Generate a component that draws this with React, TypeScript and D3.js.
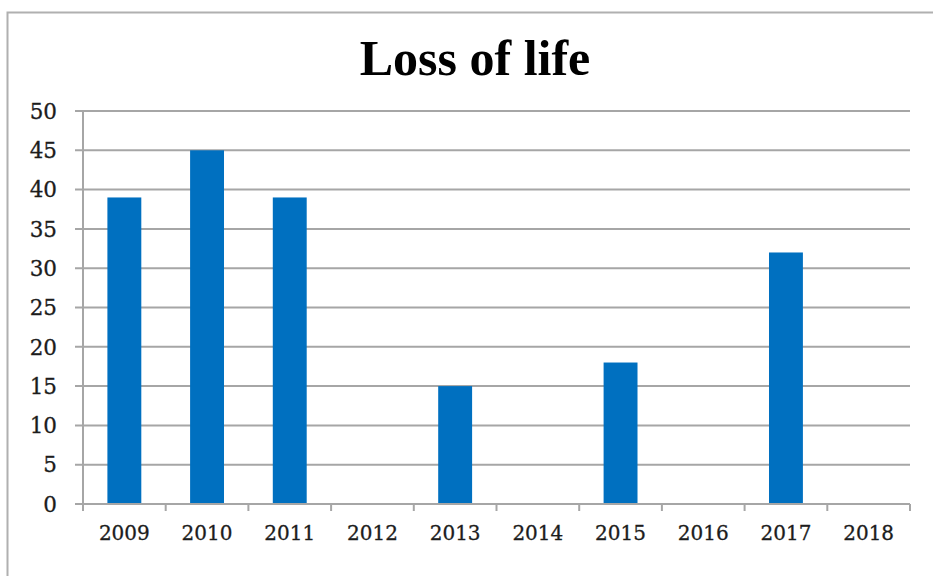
import { useEffect, useRef } from "react";
import * as d3 from "d3";

const years = ["2009", "2010", "2011", "2012", "2013", "2014", "2015", "2016", "2017", "2018"];
const deaths = [39, 45, 39, 0, 15, 0, 18, 0, 32, 0];
const yTicks = [0, 5, 10, 15, 20, 25, 30, 35, 40, 45, 50];

const W = 933;
const H = 576;

const App = () => {
  const ref = useRef<SVGSVGElement>(null);

  useEffect(() => {
    const svg = d3.select(ref.current);
    svg.selectAll("*").remove();

    const left = 83, right = 910, top = 111, bottom = 504;

    const x = d3.scaleBand<string>()
      .domain(years)
      .range([left, right])
      .paddingInner(0.59)
      .paddingOuter(0.295);
    const y = d3.scaleLinear().domain([0, 50]).range([bottom, top]);

    // outer frame
    svg.append("rect")
      .attr("x", 7.5).attr("y", 12.5)
      .attr("width", 1000).attr("height", 1000)
      .attr("fill", "#fff")
      .attr("stroke", "#b0b0b0")
      .attr("stroke-width", 2);

    // title
    svg.append("text")
      .attr("x", 475).attr("y", 75)
      .attr("text-anchor", "middle")
      .attr("font-family", "'Liberation Serif', serif")
      .attr("font-weight", "bold")
      .attr("font-size", 50)
      .attr("fill", "#000")
      .text("Loss of life");

    // gridlines + y ticks
    const grid = svg.append("g");
    grid.selectAll("line")
      .data(yTicks)
      .join("line")
      .attr("x1", left - 8).attr("x2", right)
      .attr("y1", d => y(d)).attr("y2", d => y(d))
      .attr("stroke", "#a6a6a6")
      .attr("stroke-width", 2);

    svg.append("g").selectAll("text")
      .data(yTicks)
      .join("text")
      .attr("x", 57)
      .attr("y", d => y(d))
      .attr("dy", "0.36em")
      .attr("text-anchor", "end")
      .attr("font-family", "'DejaVu Serif', serif")
      .attr("font-size", 21.5)
      .attr("fill", "#1c1c1c")
      .attr("stroke", "#1c1c1c")
      .attr("stroke-width", 0.3)
      .text(d => d);

    // y axis line
    svg.append("line")
      .attr("x1", left).attr("x2", left)
      .attr("y1", top).attr("y2", bottom)
      .attr("stroke", "#a6a6a6")
      .attr("stroke-width", 2);

    // bars
    svg.append("g").selectAll("rect")
      .data(deaths)
      .join("rect")
      .attr("x", (_, i) => x(years[i]) as number)
      .attr("width", x.bandwidth())
      .attr("y", d => y(d))
      .attr("height", d => bottom - y(d))
      .attr("fill", "#0070c0");

    // x axis ticks at category boundaries
    const step = x.step();
    const bounds = d3.range(years.length + 1).map(i => left + i * step);
    svg.append("g").selectAll("line")
      .data(bounds)
      .join("line")
      .attr("x1", d => d).attr("x2", d => d)
      .attr("y1", bottom).attr("y2", bottom + 7)
      .attr("stroke", "#a6a6a6")
      .attr("stroke-width", 2);

    svg.append("line")
      .attr("x1", left - 8).attr("x2", right)
      .attr("y1", bottom).attr("y2", bottom)
      .attr("stroke", "#a6a6a6")
      .attr("stroke-width", 2);

    svg.append("g").selectAll("text")
      .data(years)
      .join("text")
      .attr("x", d => (x(d) as number) + x.bandwidth() / 2)
      .attr("y", 540)
      .attr("text-anchor", "middle")
      .attr("font-family", "'DejaVu Serif', serif")
      .attr("font-size", 20)
      .attr("fill", "#1c1c1c")
      .attr("stroke", "#1c1c1c")
      .attr("stroke-width", 0.3)
      .text(d => d);
  }, []);

  return (
    <svg
      ref={ref}
      width={W}
      height={H}
      style={{ position: "absolute", left: 0, top: 0, background: "#fff" }}
    />
  );
};

export default App;
